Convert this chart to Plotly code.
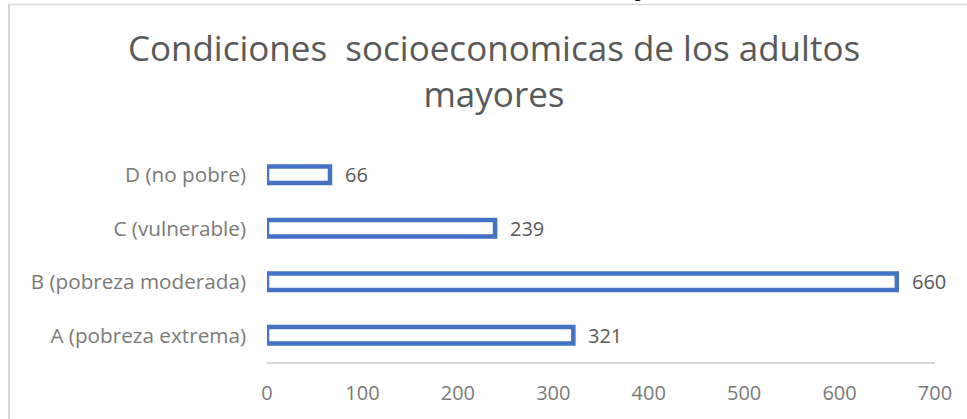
import plotly.graph_objects as go

categories = ["A (pobreza extrema)", "B (pobreza moderada)", "C (vulnerable)", "D (no pobre)"]
values = [321, 660, 239, 66]
x_ticks = [0, 100, 200, 300, 400, 500, 600, 700]
title_text = "Condiciones \u00a0socioeconomicas de los adultos<br>mayores"

W, H = 967, 419
L, R, T, B = 267, 32, 148, 57
pw, ph = W - L - R, H - T - B

def px_to_paper_x(px):
    return (px - L) / pw

def px_to_paper_y(py):
    return (H - B - py) / ph

fig = go.Figure(
    go.Bar(
        x=values,
        y=categories,
        orientation="h",
        marker=dict(color="white", line=dict(color="#4472C4", width=4.5)),
        hoverinfo="skip",
    )
)

for v, c in zip(values, categories):
    fig.add_annotation(
        x=v, y=c, xref="x", yref="y", text=str(v), showarrow=False,
        xanchor="left", yanchor="middle", xshift=13,
        font=dict(family="Open Sans", size=20, color="#595959"),
    )

# stray glyph cut off at the top of the picture
fig.add_annotation(
    x=px_to_paper_x(643), y=px_to_paper_y(-4), xref="paper", yref="paper",
    text="y", showarrow=False, xanchor="center", yanchor="bottom",
    font=dict(family="Open Sans", size=30, color="black"), yshift=-9,
)

# frame lines
fig.add_shape(type="line", xref="paper", yref="paper",
              x0=px_to_paper_x(8), x1=px_to_paper_x(W + 5),
              y0=px_to_paper_y(4.5), y1=px_to_paper_y(4.5),
              line=dict(color="#d9d9d9", width=1.5))
fig.add_shape(type="line", xref="paper", yref="paper",
              x0=px_to_paper_x(9), x1=px_to_paper_x(9),
              y0=px_to_paper_y(4), y1=px_to_paper_y(H + 5),
              line=dict(color="#d9d9d9", width=2))

fig.update_layout(
    width=W, height=H,
    margin=dict(l=L, r=R, t=T, b=B),
    paper_bgcolor="white", plot_bgcolor="white",
    bargap=0.69,
    showlegend=False,
    title=dict(
        text=title_text, x=494 / W, xanchor="center", xref="container",
        y=1 - 61 / H, yanchor="top", yref="container",
        font=dict(family="Open Sans", size=35, color="#595959"),
    ),
    font=dict(family="Open Sans"),
)
fig.update_xaxes(
    range=[0, 700], tickvals=x_ticks, showgrid=False, zeroline=False,
    showline=True, linecolor="#d9d9d9", linewidth=1.5,
    ticks="", ticklabelstandoff=12,
    tickfont=dict(family="Open Sans", size=20, color="#7a7a7a"),
)
fig.update_yaxes(
    showgrid=False, zeroline=False, showline=False, ticks="",
    ticklabelstandoff=20,
    tickfont=dict(family="Open Sans", size=20.7, color="#7a7a7a"),
)

fig.write_html(
    "out.html",
    config={"displayModeBar": False},
    post_script="document.body.style.margin='0';document.body.style.overflow='hidden';",
)
